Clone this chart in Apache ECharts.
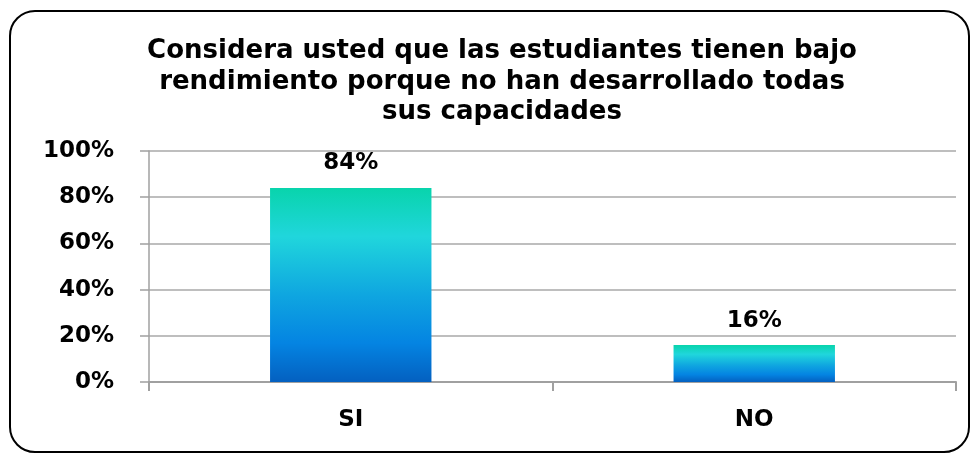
<!DOCTYPE html>
<html>
<head>
<meta charset="utf-8">
<script src="https://cdn.jsdelivr.net/npm/echarts@6/dist/echarts.min.js"></script>
<style>
  html, body { margin: 0; padding: 0; background: #fff; }
  #main { width: 972px; height: 455px; }
</style>
</head>
<body>
<div id="main"></div>
<script>
var categories = ['SI', 'NO'];
var values = [84, 16];
var titleLines = [
    'Considera usted que las estudiantes tienen bajo',
    'rendimiento porque no han desarrollado todas',
    'sus capacidades'
];

var FONT = 'DejaVu Sans, Verdana, sans-serif';
var myChart = echarts.init(document.getElementById('main'));

// degradado de las barras: verde agua arriba, azul oscuro abajo
var barColor = new echarts.graphic.LinearGradient(0, 0, 0, 1, [
    { offset: 0, color: '#08d4ac' },
    { offset: 0.25, color: '#20d6dc' },
    { offset: 0.55, color: '#0fa6e0' },
    { offset: 0.8, color: '#0484e2' },
    { offset: 1, color: '#0460c0' }
]);

var option = {
    backgroundColor: '#fff',
    textStyle: { fontFamily: FONT },
    graphic: [{
        type: 'rect',
        shape: { x: 10, y: 11, width: 959, height: 441, r: 25 },
        style: { fill: 'none', stroke: '#000', lineWidth: 2 },
        z: -1
    }],
    title: {
        text: titleLines.join('\n'),
        left: 497,
        textAlign: 'center',
        top: 31,
        textStyle: {
            fontSize: 26,
            fontWeight: 'bold',
            color: '#000',
            lineHeight: 30.5,
            fontFamily: FONT
        }
    },
    grid: { left: 149, right: 16, top: 151, bottom: 73 },
    xAxis: {
        type: 'category',
        data: categories,
        axisLine: { lineStyle: { color: '#a0a0a0', width: 2 } },
        axisTick: { show: true, length: 9, lineStyle: { color: '#a0a0a0', width: 2 } },
        axisLabel: { color: '#000', fontSize: 23, fontWeight: 'bold', margin: 27, fontFamily: FONT }
    },
    yAxis: {
        type: 'value',
        min: 0,
        max: 100,
        interval: 20,
        axisLine: { show: true, lineStyle: { color: '#a0a0a0', width: 1.5 } },
        axisTick: { show: true, length: 9, lineStyle: { color: '#a0a0a0', width: 1.5 } },
        splitLine: { lineStyle: { color: '#a8a8a8', width: 1.5 } },
        axisLabel: {
            color: '#000', fontSize: 23, fontWeight: 'bold', margin: 35, fontFamily: FONT,
            formatter: '{value}%'
        }
    },
    series: [{
        type: 'bar',
        data: values,
        barWidth: '40%',
        itemStyle: { color: barColor },
        label: {
            show: true,
            position: 'top',
            distance: 13,
            color: '#000',
            fontSize: 23,
            fontWeight: 'bold',
            fontFamily: FONT,
            formatter: '{c}%'
        }
    }]
};

myChart.setOption(option);
</script>
</body>
</html>
